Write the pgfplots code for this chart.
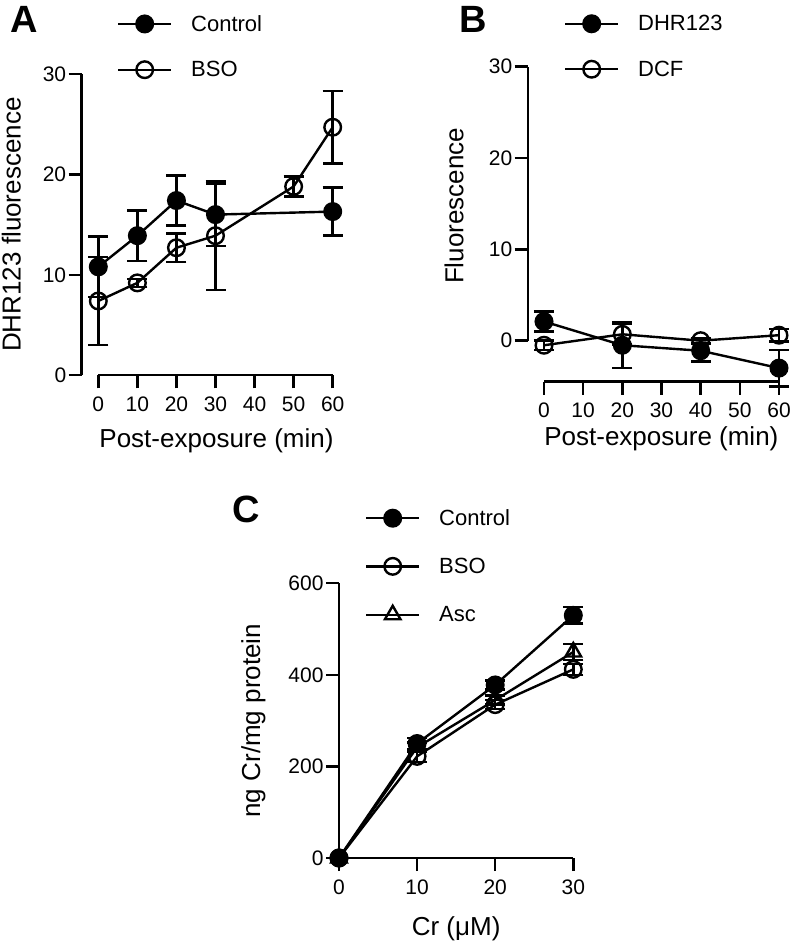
\documentclass[border=0pt]{standalone}
\usepackage{fontspec}
\setmainfont{Liberation Sans}
\usepackage{pgfplots}
\pgfplotsset{compat=1.18}
\begin{document}
\begin{tikzpicture}
\useasboundingbox (0,0) rectangle (800bp,942bp);
\pgfplotsset{
  prism/.style={
    scale only axis, clip=false, anchor=south west,
    axis x line*=bottom, axis y line*=left,
    every outer x axis line/.append style={-},
    every outer y axis line/.append style={-},
    axis line style={line width=2.4bp, -},
    tick style={line width=2.4bp, black},
    tick align=outside, major tick length=13bp,
    tick label style={font=\fontsize{21bp}{24bp}\selectfont},
    xticklabel style={yshift=-5bp},
    yticklabel style={xshift=1bp},
    /pgf/number format/assume math mode=true,
    label style={font=\fontsize{26bp}{30bp}\selectfont},
    legend style={draw=none, fill=none, inner sep=0pt, outer sep=0pt, anchor=north west,
      row sep=28.6bp, font=\fontsize{22bp}{26bp}\selectfont, nodes={inner sep=0pt}},
    legend cell align=left,
    legend image code/.code={\path[draw=none,fill=none] (0bp,0bp) (73bp,0bp);\draw[mark repeat=2,mark phase=2,##1] plot coordinates {(0bp,0bp) (26.5bp,0bp) (53bp,0bp)};},
    every axis plot/.append style={line width=2.4bp, black,
      error bars/y dir=both, error bars/y explicit,
      error bars/error mark=-,
      error bars/error bar style={line width=2.4bp, solid, black},
      error bars/error mark options={line width=2.4bp, mark size=10bp, rotate=90, solid}},
  },
  filledpt/.style={mark=*, mark size=8.3bp, mark options={solid, fill=black}},
  openpt/.style={mark=o, mark size=8.3bp, mark options={solid, fill=none}},
  tript/.style={mark=triangle, mark size=9bp, mark options={solid, fill=none}},
}
% Panel labels
\node[anchor=base west, font=\bfseries\fontsize{38bp}{38bp}\selectfont, inner sep=0pt] at (10bp,909bp) {A};
\node[anchor=base west, font=\bfseries\fontsize{38bp}{38bp}\selectfont, inner sep=0pt] at (459bp,909bp) {B};
\node[anchor=base west, font=\bfseries\fontsize{38bp}{38bp}\selectfont, inner sep=0pt] at (232bp,419bp) {C};

% Panel A
\begin{axis}[prism, at={(81.7bp,566.7bp)}, width=251bp, height=301.3bp,
  xmin=-4.25, xmax=60, ymin=0, ymax=30,
  xtick={0,10,20,30,40,50,60}, ytick={0,10,20,30},
  x axis line style={shorten <=16.6bp},
  xlabel={Post-exposure (min)}, ylabel={DHR123 fluorescence},
  xlabel style={at={(axis description cs:0.537,-0.240)}, anchor=base},
  ylabel style={at={(axis description cs:-0.243,0.5)}, anchor=base},
  legend style={at={(axis description cs:0.1406,1.195)}},
]
\addplot[filledpt] coordinates {
  (0,10.8) +- (0,3.0)
  (10,13.9) +- (0,2.5)
  (20,17.4) +- (0,2.5)
  (30,16.0) +- (0,3.1)
  (60,16.3) +- (0,2.4)
};
\addlegendentry{Control}
\addplot[openpt] coordinates {
  (0,7.4) +- (0,4.4)
  (10,9.2) +- (0,0.4)
  (20,12.7) +- (0,1.4)
  (30,13.9) +- (0,5.4)
  (50,18.8) +- (0,1.0)
  (60,24.7) +- (0,3.6)
};
\addlegendentry{BSO}
\end{axis}

% Panel B
\begin{axis}[prism, at={(527.7bp,560.3bp)}, width=251.3bp, height=315bp,
  xmin=-4.16, xmax=60, ymin=-4.49, ymax=30,
  xtick={0,10,20,30,40,50,60}, ytick={0,10,20,30},
  x axis line style={shorten <=16.3bp},
  y axis line style={shorten <=41bp},
  xlabel={Post-exposure (min)}, ylabel={Fluorescence},
  xlabel style={at={(axis description cs:0.532,-0.203)}, anchor=base},
  ylabel style={at={(axis description cs:-0.256,0.558)}, anchor=base},
  legend style={at={(axis description cs:0.1444,1.163)}},
]
\addplot[filledpt] coordinates {
  (0,2.1) +- (0,1.1)
  (20,-0.5) +- (0,2.5)
  (40,-1.1) +- (0,1.2)
  (60,-3.0) +- (0,2.0)
};
\addlegendentry{DHR123}
\addplot[openpt] coordinates {
  (0,-0.5) +- (0,0.5)
  (20,0.7) +- (0,1.1)
  (40,0.0) +- (0,0.3)
  (60,0.6) +- (0,0.7)
};
\addlegendentry{DCF}
\end{axis}

% Panel C
\begin{axis}[prism, at={(339bp,84bp)}, width=234.3bp, height=274.7bp,
  xmin=0, xmax=30, ymin=0, ymax=600,
  xtick={0,10,20,30}, ytick={0,200,400,600},
  xlabel={Cr (μM)}, ylabel={ng Cr/mg protein},
  xlabel style={at={(axis description cs:0.5,-0.281)}, anchor=base},
  ylabel style={at={(axis description cs:-0.337,0.5)}, anchor=base},
  legend style={at={(axis description cs:0.111,1.2687)}, row sep=31bp},
]
\addplot[filledpt] coordinates {
  (0,0) +- (0,0)
  (10,250) +- (0,12)
  (20,378) +- (0,10)
  (30,530) +- (0,18)
};
\addlegendentry{Control}
\addplot[openpt] coordinates {
  (0,0) +- (0,0)
  (10,222) +- (0,12)
  (20,335) +- (0,10)
  (30,412) +- (0,12)
};
\addlegendentry{BSO}
\addplot[tript] coordinates {
  (0,0) +- (0,0)
  (10,242) +- (0,10)
  (20,345) +- (0,10)
  (30,450) +- (0,18)
};
\addlegendentry{Asc}
\end{axis}
\end{tikzpicture}
\end{document}
